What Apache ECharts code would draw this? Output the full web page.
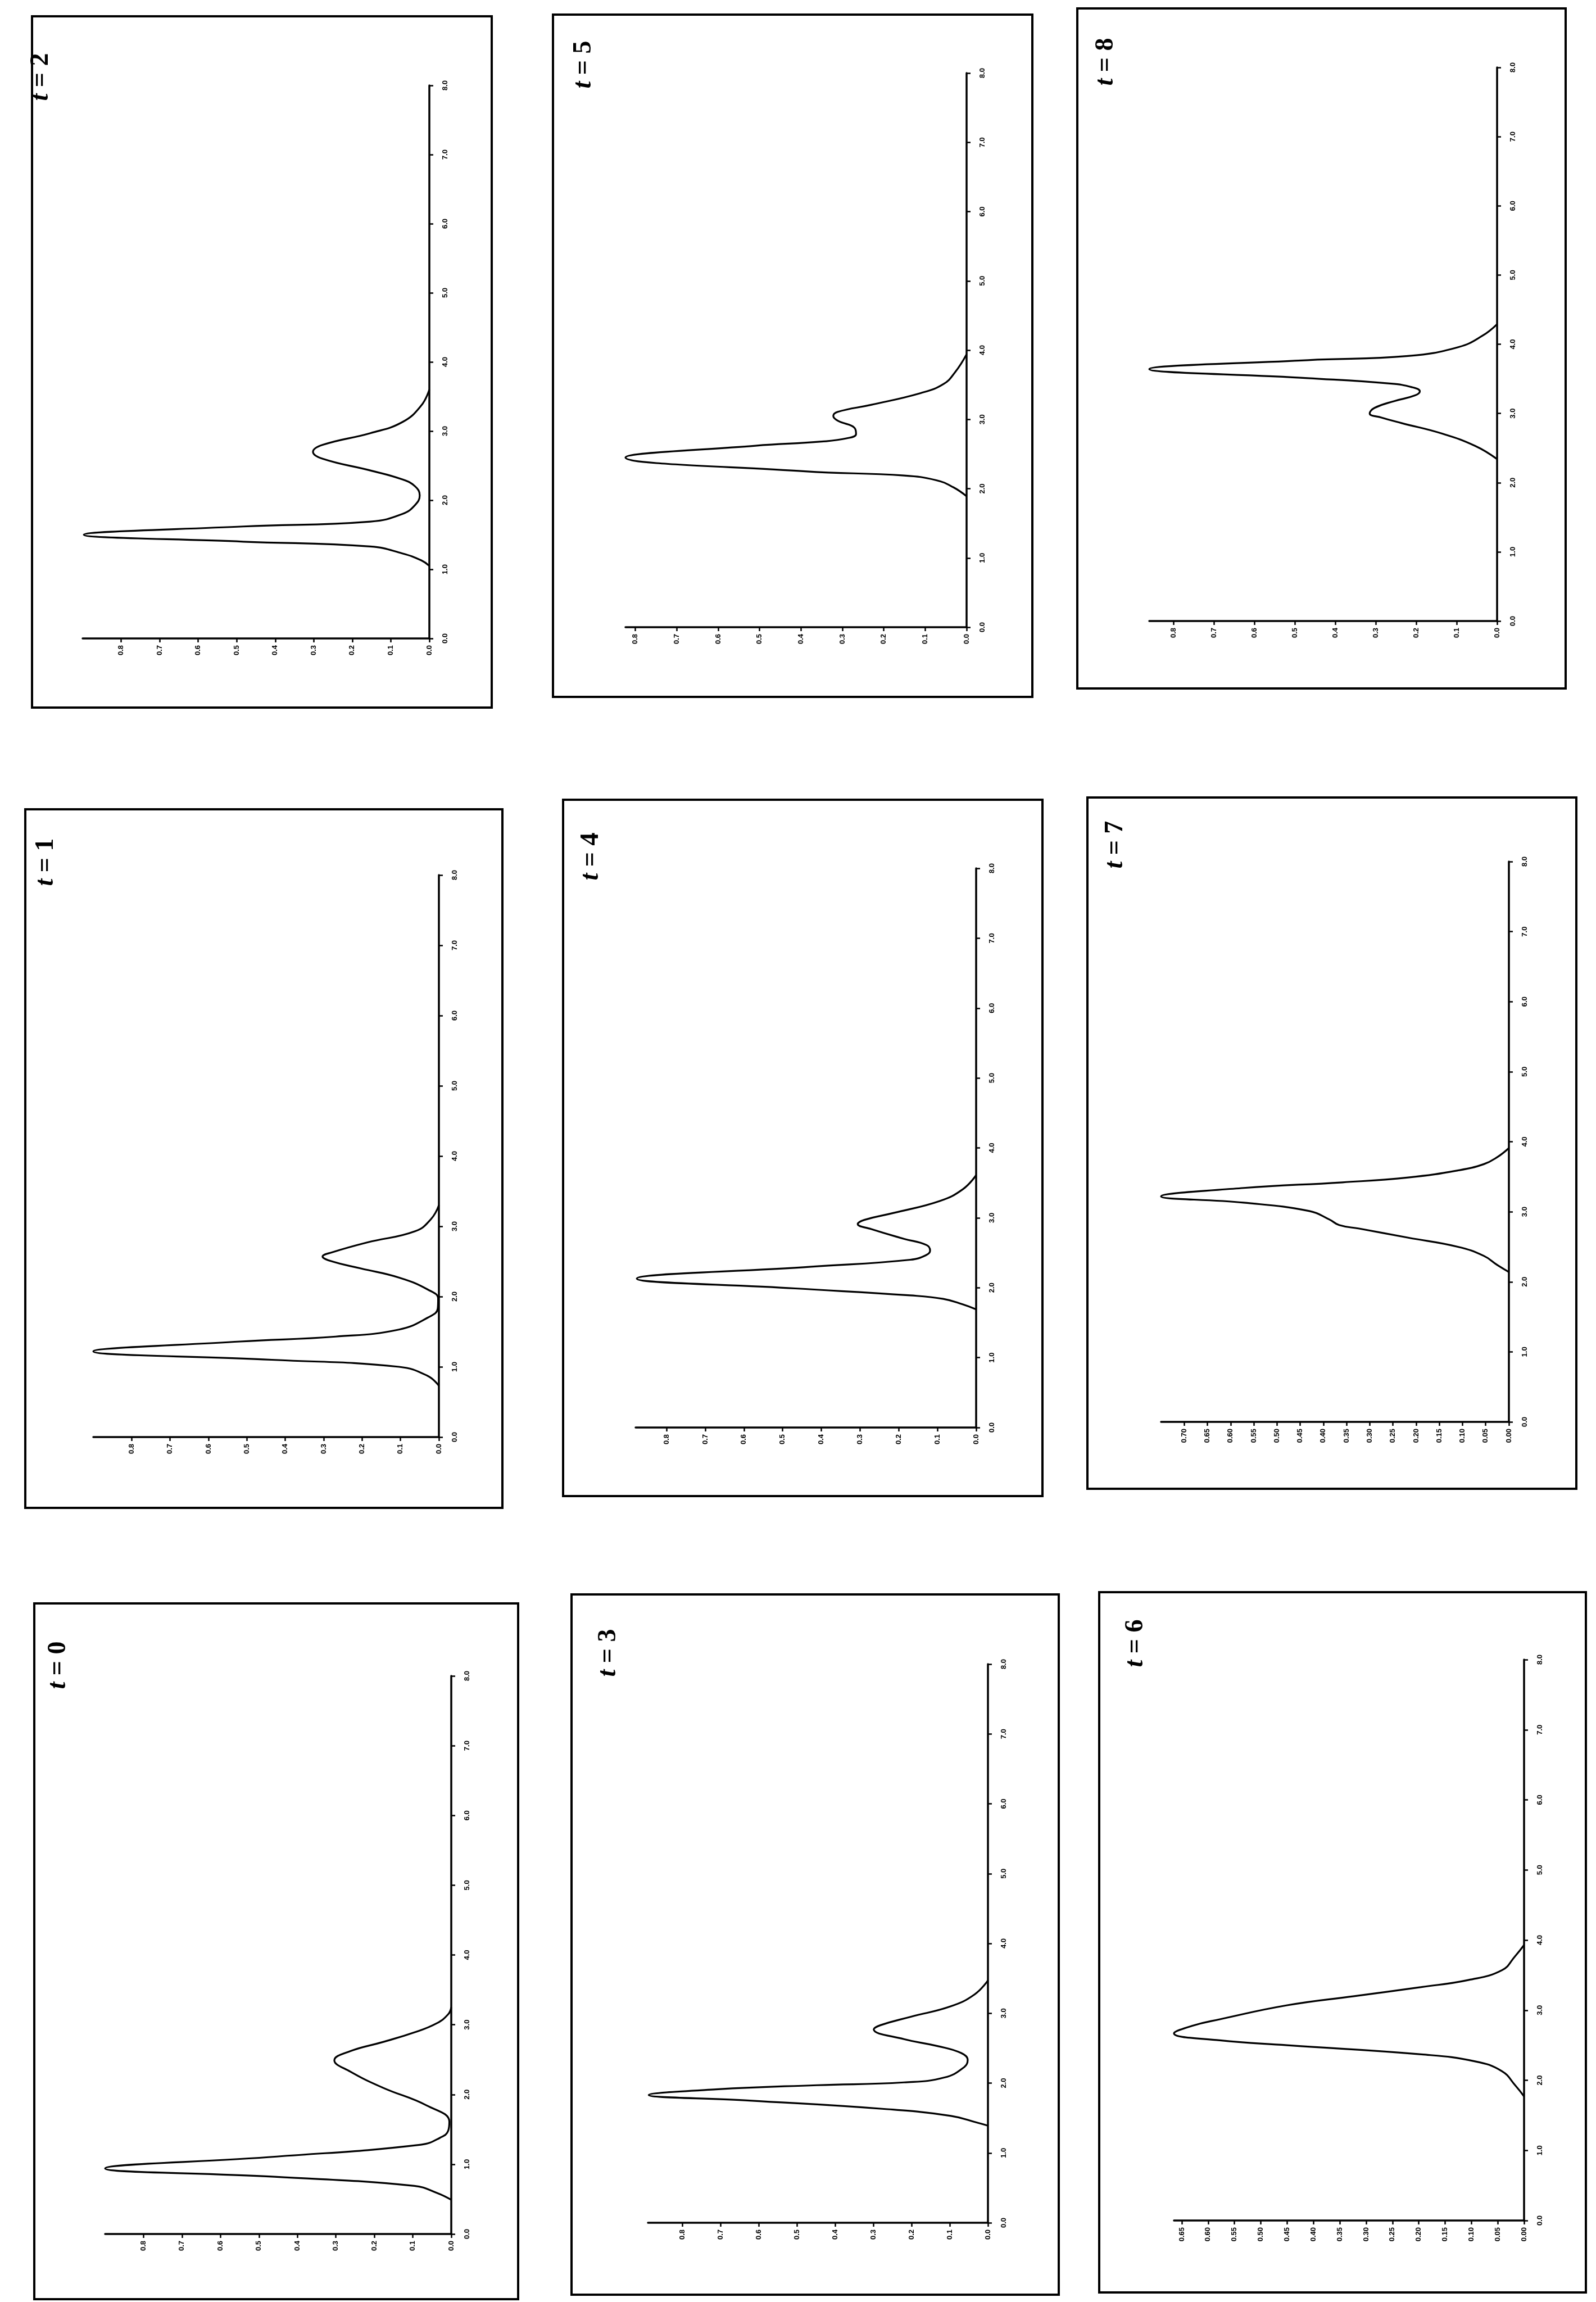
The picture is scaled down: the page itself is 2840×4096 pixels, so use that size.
<!DOCTYPE html>
<html>
<head>
<meta charset="utf-8">
<script src="https://cdn.jsdelivr.net/npm/echarts@6/dist/echarts.min.js"></script>
<style>
html,body{margin:0;padding:0;background:#fff;}
#chart{width:2840px;height:4096px;}
</style>
</head>
<body>
<div id="chart"></div>
<script>
// ---- DATA: each curve is a list of [variable, density] ----
const curve_t0 = [[0.49,0],[0.59,0.038],[0.69,0.096],[0.82,0.46],[0.94,0.90],[1.11,0.454],[1.28,0.079],[1.38,0.029],[1.48,0.008],[1.61,0.005],[1.84,0.063],[2.10,0.179],[2.33,0.263],[2.49,0.304],[2.62,0.263],[2.75,0.179],[2.89,0.096],[3.02,0.038],[3.15,0.008],[3.25,0]];
const curve_t1 = [[0.73,0],[0.87,0.029],[1.0,0.104],[1.1,0.435],[1.22,0.90],[1.36,0.518],[1.43,0.269],[1.53,0.104],[1.70,0.029],[1.83,0.003],[1.97,0.002],[2.10,0.029],[2.27,0.104],[2.40,0.203],[2.50,0.278],[2.57,0.303],[2.63,0.278],[2.77,0.187],[2.93,0.062],[3.10,0.021],[3.30,0]];
const curve_t2 = [[1.05,0],[1.13,0.021],[1.23,0.07],[1.33,0.153],[1.40,0.483],[1.50,0.897],[1.62,0.483],[1.69,0.153],[1.80,0.07],[1.93,0.037],[2.07,0.025],[2.20,0.037],[2.30,0.07],[2.43,0.153],[2.60,0.277],[2.70,0.302],[2.80,0.277],[2.97,0.153],[3.13,0.07],[3.37,0.021],[3.60,0]];
const curve_t3 = [[1.39,0],[1.43,0.026],[1.53,0.097],[1.63,0.272],[1.75,0.624],[1.83,0.888],[1.91,0.712],[1.97,0.448],[2.01,0.22],[2.08,0.114],[2.23,0.062],[2.33,0.053],[2.43,0.07],[2.53,0.132],[2.63,0.22],[2.77,0.299],[2.83,0.281],[2.95,0.202],[3.10,0.097],[3.27,0.035],[3.47,0]];
const curve_t4 = [[1.69,0],[1.76,0.034],[1.84,0.085],[1.89,0.17],[1.99,0.468],[2.13,0.877],[2.30,0.426],[2.40,0.17],[2.47,0.128],[2.53,0.119],[2.61,0.128],[2.70,0.187],[2.84,0.272],[2.91,0.306],[2.97,0.289],[3.07,0.213],[3.24,0.094],[3.41,0.034],[3.61,0]];
const curve_t5 = [[1.89,0],[2.02,0.032],[2.12,0.072],[2.19,0.151],[2.25,0.39],[2.45,0.824],[2.62,0.51],[2.68,0.35],[2.73,0.287],[2.79,0.267],[2.88,0.271],[2.98,0.311],[3.05,0.322],[3.11,0.311],[3.21,0.231],[3.38,0.111],[3.51,0.056],[3.68,0.028],[3.94,0]];
const curve_t6 = [[1.77,0],[1.93,0.017],[2.13,0.042],[2.27,0.093],[2.37,0.195],[2.50,0.45],[2.57,0.578],[2.67,0.665],[2.78,0.629],[2.87,0.578],[3.07,0.45],[3.20,0.323],[3.33,0.195],[3.43,0.106],[3.57,0.042],[3.77,0.017],[3.93,0]];
const curve_t7 = [[2.14,0],[2.24,0.025],[2.37,0.054],[2.50,0.11],[2.63,0.217],[2.76,0.323],[2.81,0.366],[2.89,0.387],[3.01,0.43],[3.13,0.572],[3.22,0.75],[3.34,0.572],[3.42,0.359],[3.49,0.217],[3.59,0.11],[3.68,0.054],[3.78,0.025],[3.91,0]];
const curve_t8 = [[2.34,0],[2.53,0.054],[2.71,0.137],[2.86,0.236],[2.94,0.286],[3.0,0.315],[3.08,0.303],[3.18,0.253],[3.26,0.203],[3.32,0.191],[3.38,0.211],[3.43,0.261],[3.51,0.468],[3.64,0.86],[3.77,0.468],[3.83,0.22],[3.96,0.095],[4.12,0.037],[4.29,0]];

// tick values
const densityTicks10 = [0,0.1,0.2,0.3,0.4,0.5,0.6,0.7,0.8];
const densityTicks05a = [0,0.05,0.1,0.15,0.2,0.25,0.3,0.35,0.4,0.45,0.5,0.55,0.6,0.65];
const densityTicks05b = [0,0.05,0.1,0.15,0.2,0.25,0.3,0.35,0.4,0.45,0.5,0.55,0.6,0.65,0.7];
const variableTicks = [0,1,2,3,4,5,6,7,8];
const panelTitles = ['0','1','2','3','4','5','6','7','8'];

// ---- LAYOUT (window pixels) ----
const panels = [
  {curve:curve_t0, dmax:0.90, dticks:densityTicks10, dec:1, grid:[187,2982,616,993], frame:[61,2853,922,4091], label:[104,2963]},
  {curve:curve_t1, dmax:0.90, dticks:densityTicks10, dec:1, grid:[166,1557,615,1000], frame:[45,1440,894,2683], label:[82,1534]},
  {curve:curve_t2, dmax:0.90, dticks:densityTicks10, dec:1, grid:[147,152,617,984], frame:[57,29,875,1259], label:[73,137]},
  {curve:curve_t3, dmax:0.89, dticks:densityTicks10, dec:1, grid:[1153,2961,605,994], frame:[1017,2837,1884,4083], label:[1083,2941]},
  {curve:curve_t4, dmax:0.88, dticks:densityTicks10, dec:1, grid:[1131,1545,606,995], frame:[1002,1423,1855,2662], label:[1052,1524]},
  {curve:curve_t5, dmax:0.824, dticks:densityTicks10, dec:1, grid:[1113,130,607,986], frame:[984,26,1837,1240], label:[1039,115]},
  {curve:curve_t6, dmax:0.665, dticks:densityTicks05a, dec:2, grid:[2089,2953,623,998], frame:[1956,2833,2822,4079], label:[2021,2924]},
  {curve:curve_t7, dmax:0.75, dticks:densityTicks05b, dec:2, grid:[2066,1533,619,997], frame:[1935,1419,2805,2649], label:[1985,1503]},
  {curve:curve_t8, dmax:0.86, dticks:densityTicks10, dec:1, grid:[2045,120,619,985], frame:[1917,15,2786,1225], label:[1968,110]}
];

const grids = [], xAxes = [], yAxes = [], series = [], graphics = [];
panels.forEach((p, i) => {
  grids.push({left:p.grid[0], top:p.grid[1], width:p.grid[2], height:p.grid[3], containLabel:false, outerBoundsMode:'none'});
  xAxes.push({
    gridIndex:i, type:'value', inverse:true, position:'bottom', min:0, max:p.dmax,
    axisLine:{show:true, onZero:false, lineStyle:{color:'#000', width:3.5}},
    axisTick:{show:true, length:7, customValues:p.dticks, lineStyle:{color:'#000', width:2.5}},
    axisLabel:{show:true, rotate:90, margin:12, customValues:p.dticks, color:'#000', fontSize:13, fontWeight:'bold', fontFamily:'Liberation Sans',
      formatter:(v)=>Number(v).toFixed(p.dec)},
    splitLine:{show:false}
  });
  yAxes.push({
    gridIndex:i, type:'value', position:'right', min:0, max:8,
    axisLine:{show:true, onZero:false, lineStyle:{color:'#000', width:3.5}},
    axisTick:{show:true, length:7, customValues:variableTicks, lineStyle:{color:'#000', width:2.5}},
    axisLabel:{show:true, rotate:90, margin:22, customValues:variableTicks, color:'#000', fontSize:13, fontWeight:'bold', fontFamily:'Liberation Sans',
      formatter:(v)=>Number(v).toFixed(1)},
    splitLine:{show:false}
  });
  series.push({
    type:'line', xAxisIndex:i, yAxisIndex:i, showSymbol:false, symbol:'none',
    smooth:0.45, clip:false,
    lineStyle:{color:'#000', width:3.2},
    data:p.curve.map(([v,d]) => [d, v])
  });
  graphics.push({
    type:'rect', silent:true,
    shape:{x:p.frame[0], y:p.frame[1], width:p.frame[2]-p.frame[0], height:p.frame[3]-p.frame[1]},
    style:{fill:'none', stroke:'#000', lineWidth:4}
  });
  graphics.push({
    type:'text', silent:true, x:p.label[0], y:p.label[1], rotation:Math.PI/2,
    style:{
      text:'{i|t} = ' + panelTitles[i],
      fill:'#000', fontSize:46, fontWeight:'bold', fontFamily:'Liberation Serif',
      align:'center', verticalAlign:'middle',
      rich:{i:{fontStyle:'italic', fontWeight:'bold', fontSize:46, fontFamily:'Liberation Serif', fill:'#000'}}
    }
  });
});

const chart = echarts.init(document.getElementById('chart'), null, {renderer:'canvas'});
chart.setOption({
  backgroundColor:'#fff',
  animation:false,
  grid:grids, xAxis:xAxes, yAxis:yAxes, series:series, graphic:graphics
});
</script>
</body>
</html>
